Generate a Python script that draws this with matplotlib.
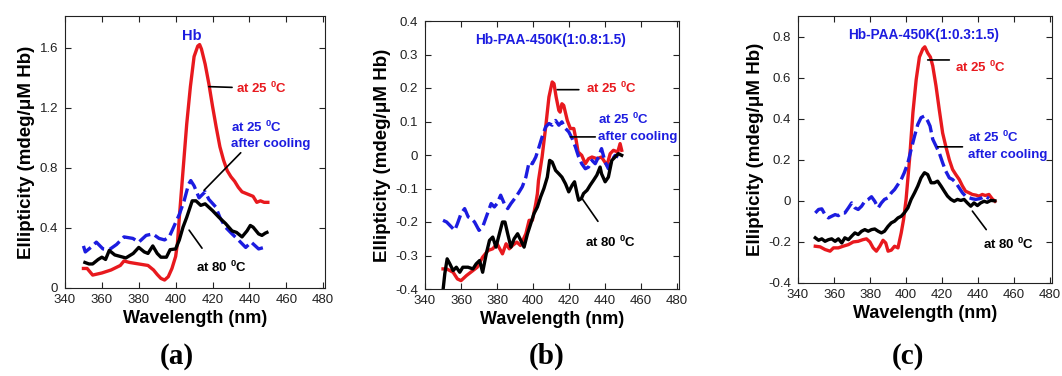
import matplotlib.pyplot as plt
from matplotlib.ticker import FuncFormatter

plt.rcParams['font.family'] = ['Liberation Sans', 'DejaVu Sans']
plt.rcParams['axes.unicode_minus'] = False
plt.rcParams['mathtext.fontset'] = 'custom'
plt.rcParams['mathtext.rm'] = 'Liberation Sans:bold'
plt.rcParams['mathtext.bf'] = 'Liberation Sans:bold'

RED = '#e8191e'
BLUE = '#1c1ce0'

# ---- panel (a): Hb ----
a_red_x = [350, 352, 355, 360, 365, 370, 372, 375, 380, 385, 388, 390, 392, 394, 396, 398,
           400, 401, 402, 404, 406, 408, 410, 412, 413, 414, 416, 418, 420, 422, 424, 426,
           428, 430, 432, 434, 436, 438, 440, 442, 444, 446, 448, 450]
a_red_y = [0.13, 0.13, 0.086, 0.10, 0.12, 0.15, 0.18, 0.17, 0.16, 0.15, 0.12, 0.09, 0.064, 0.053,
           0.075, 0.13, 0.21, 0.30, 0.47, 0.78, 1.09, 1.34, 1.54, 1.61, 1.62, 1.59, 1.49, 1.36,
           1.21, 1.07, 0.94, 0.85, 0.78, 0.74, 0.71, 0.67, 0.64, 0.63, 0.62, 0.61, 0.57, 0.58,
           0.57, 0.57]
a_blue_x = [350, 351, 354, 357, 360.6, 364, 368, 372, 376.8, 380, 384, 387.6, 391, 394, 396.5,
            398, 402, 404.6, 407, 408.2, 410, 412.7, 416, 418, 421.7, 424, 427, 430.6, 434, 438,
            441, 445, 448]
a_blue_y = [0.28, 0.24, 0.27, 0.305, 0.26, 0.255, 0.29, 0.34, 0.33, 0.305, 0.35, 0.36, 0.33,
            0.32, 0.34, 0.38, 0.49, 0.58, 0.69, 0.715, 0.68, 0.60, 0.64, 0.59, 0.54, 0.47, 0.405,
            0.36, 0.32, 0.27, 0.305, 0.26, 0.27]
a_black_x = [350.8, 353, 355, 358, 360, 362, 364, 367, 370, 373, 377, 380, 383, 385, 387.6, 390,
             392, 395, 397, 400, 402, 404, 406, 409, 411, 413.6, 416, 420, 423.5, 427, 430.6,
             433, 436, 438.7, 440.5, 442, 445, 446.8, 448.6, 449.5]
a_black_y = [0.17, 0.16, 0.16, 0.19, 0.205, 0.19, 0.25, 0.22, 0.21, 0.20, 0.23, 0.27, 0.24, 0.23,
             0.28, 0.23, 0.205, 0.205, 0.255, 0.26, 0.32, 0.405, 0.47, 0.58, 0.58, 0.55, 0.56,
             0.515, 0.47, 0.43, 0.38, 0.37, 0.34, 0.38, 0.416, 0.405, 0.36, 0.35, 0.365, 0.37]

# ---- panel (b): Hb-PAA-450K(1:0.8:1.5) ----
b_red_x = [350, 352, 355.6, 358, 360, 363, 366.6, 369, 372, 375, 377.6, 380, 383, 385, 386.8,
           388.6, 391, 393, 396, 397.8, 399.6, 401.5, 402.4, 403, 405, 407, 408.8, 410.6,
           411.6, 412.8, 414.3, 415, 416, 417, 419, 420.7, 422.6, 423.9, 425, 427, 429, 430.8,
           432.7, 435.4, 438, 441, 442.8, 444.6, 447, 448.3, 449.2]
b_red_y = [-0.34, -0.34, -0.35, -0.37, -0.375, -0.36, -0.345, -0.335, -0.305, -0.285, -0.28,
           -0.265, -0.295, -0.265, -0.28, -0.27, -0.26, -0.27, -0.235, -0.195, -0.195, -0.145,
           -0.115, -0.076, -0.006, 0.084, 0.173, 0.218, 0.213, 0.173, 0.133, 0.128, 0.153, 0.148,
           0.103, 0.079, 0.079, 0.044, 0.009, -0.001, -0.026, -0.011, -0.006, -0.011, -0.006,
           -0.031, 0.004, 0.014, 0.009, 0.034, 0.014]
b_blue_x = [350, 352, 354.7, 356.5, 358, 360, 362, 364, 365.7, 367.5, 370, 372, 374, 376.7,
            378.5, 380, 382, 384, 385.9, 387.7, 390.5, 392.3, 394, 396, 397.8, 399.6, 401.5,
            403.3, 405, 407, 408.8, 410.6, 412.5, 414.3, 416, 418, 419.8, 421.7, 423.5, 425.3,
            427, 429, 430.8, 432.7, 434.5, 436.3, 438, 440, 441.8, 443.7, 445.5, 447.3]
b_blue_y = [-0.195, -0.2, -0.215, -0.225, -0.205, -0.175, -0.16, -0.185, -0.19, -0.2, -0.225,
            -0.215, -0.185, -0.145, -0.155, -0.145, -0.12, -0.145, -0.16, -0.145, -0.125, -0.11,
            -0.095, -0.066, -0.021, -0.026, -0.006, 0.024, 0.054, 0.084, 0.094, 0.089, 0.103,
            0.089, 0.099, 0.079, 0.069, 0.049, 0.024, -0.006, -0.026, -0.041, -0.036, -0.016,
            -0.026, -0.006, 0.019, -0.021, -0.041, -0.016, -0.001, -0.006]
b_black_x = [350, 351, 352.3, 353.8, 355.6, 357.4, 359.3, 361, 363.9, 366.6, 368.4, 370.3, 372,
             374, 375.8, 377.6, 379.4, 381.3, 383, 384.4, 385.9, 387.7, 389.5, 391.4, 393.2, 395,
             396.9, 398.7, 400.5, 402.4, 404.2, 406, 407.9, 409.2, 410.6, 412.5, 414.3, 416, 418,
             419.8, 421.7, 423, 424.4, 425.3, 426.8, 428, 430, 431.7, 433.6, 435.4, 437.2, 438,
             440, 441.8, 443.7, 445.5, 447.3, 449.2]
b_black_y = [-0.404, -0.354, -0.31, -0.325, -0.345, -0.335, -0.35, -0.335, -0.335, -0.34, -0.325,
             -0.315, -0.35, -0.295, -0.255, -0.245, -0.275, -0.235, -0.2, -0.2, -0.235, -0.275,
             -0.25, -0.235, -0.255, -0.275, -0.235, -0.205, -0.175, -0.155, -0.125, -0.1, -0.066,
             -0.016, -0.021, -0.046, -0.056, -0.066, -0.086, -0.11, -0.09, -0.08, -0.115, -0.135,
             -0.13, -0.115, -0.105, -0.09, -0.075, -0.06, -0.036, -0.056, -0.08, -0.066, -0.016,
             -0.006, 0.004, -0.001]

# ---- panel (c): Hb-PAA-450K(1:0.3:1.5) ----
c_red_x = [349.6, 352.3, 355, 357.8, 359.7, 362.4, 365, 368, 370.7, 373.4, 376, 378, 379.9,
           381.7, 383.5, 385.4, 387.2, 388.7, 390, 391.8, 393.6, 395.5, 397.3, 398.6, 400, 401.9,
           403.8, 405.6, 407.4, 409.3, 410.4, 412, 413.5, 414.8, 416.6, 418.4, 420.3, 422, 424,
           425.8, 427.6, 429.5, 431.3, 433, 435, 436.8, 438.7, 440.5, 442.3, 444, 446, 447.8,
           449.3]
c_red_y = [-0.221, -0.224, -0.237, -0.245, -0.229, -0.229, -0.221, -0.213, -0.2, -0.197, -0.189,
           -0.185, -0.2, -0.229, -0.245, -0.221, -0.192, -0.205, -0.245, -0.24, -0.221, -0.229,
           -0.156, -0.091, 0.007, 0.2, 0.43, 0.59, 0.70, 0.74, 0.75, 0.72, 0.70, 0.657, 0.56,
           0.445, 0.33, 0.267, 0.2, 0.153, 0.128, 0.104, 0.072, 0.047, 0.039, 0.031, 0.028,
           0.023, 0.031, 0.026, 0.031, 0.01, -0.002]
c_blue_x = [349.6, 351.4, 353.2, 355, 356.9, 358.7, 360.6, 362.4, 364.3, 366, 368, 369.8, 371.6,
            373.4, 375.3, 377.1, 379, 380.8, 382.6, 384.5, 386.3, 388, 390, 391.8, 393.6, 395.5,
            397.3, 399, 401, 402.8, 404.7, 406.5, 408.3, 410.2, 412, 413.3, 414.8, 416.6, 418.4,
            420.3, 422, 424, 425.8, 427.6, 429.5, 431.3, 433, 435, 436.8, 438.7, 440.5, 442.3,
            444, 446]
c_blue_y = [-0.059, -0.042, -0.039, -0.067, -0.083, -0.075, -0.067, -0.072, -0.059, -0.059,
            -0.034, -0.01, -0.034, -0.042, -0.026, -0.002, 0.007, 0.02, -0.002, -0.034, -0.01,
            0.007, 0.015, 0.039, 0.055, 0.08, 0.104, 0.137, 0.185, 0.25, 0.315, 0.372, 0.405,
            0.413, 0.389, 0.364, 0.3, 0.267, 0.234, 0.185, 0.145, 0.112, 0.104, 0.088, 0.063,
            0.039, 0.023, 0.015, 0.01, 0.007, 0.01, 0.015, 0.023, 0.011]
c_black_x = [349.6, 351.4, 353.2, 355, 356.9, 358.7, 360.6, 362.4, 364.3, 366, 368, 369.8, 371.6,
             373.4, 375.3, 377.1, 379, 380.8, 382.6, 384.5, 386.3, 388, 390, 391.8, 393.6, 395.5,
             397.3, 399, 401, 402.8, 404.7, 406.5, 408.3, 410.2, 412, 413.9, 415.7, 417.5, 419.4,
             421.2, 423, 424.9, 426.7, 428.5, 430.4, 432.2, 434, 435.9, 437.7, 439.6, 441.4,
             443.3, 445, 447, 449.3]
c_black_y = [-0.18, -0.192, -0.185, -0.197, -0.189, -0.185, -0.197, -0.185, -0.205, -0.18, -0.189,
             -0.172, -0.156, -0.164, -0.148, -0.14, -0.148, -0.14, -0.137, -0.148, -0.156, -0.148,
             -0.124, -0.107, -0.099, -0.083, -0.075, -0.059, -0.034, 0.007, 0.039, 0.072, 0.112,
             0.137, 0.128, 0.088, 0.088, 0.096, 0.072, 0.047, 0.023, 0.007, -0.002, 0.007, 0.002,
             0.007, -0.01, -0.026, -0.01, -0.023, -0.01, -0.002, -0.007, 0.002, 0.0]

titles = ['Hb', 'Hb-PAA-450K(1:0.8:1.5)', 'Hb-PAA-450K(1:0.3:1.5)']
panel_labels = ['(a)', '(b)', '(c)']
yticks = [[0, 0.4, 0.8, 1.2, 1.6],
          [-0.4, -0.3, -0.2, -0.1, 0, 0.1, 0.2, 0.3, 0.4],
          [-0.4, -0.2, 0, 0.2, 0.4, 0.6, 0.8]]
ylims = [(0, 1.81), (-0.4, 0.4), (-0.4, 0.9)]
xticks = [340, 360, 380, 400, 420, 440, 460, 480]

W, H = 1062, 376
fig = plt.figure(figsize=(W / 100, H / 100), dpi=100)

# axes boxes in pixels: left, top, right, bottom
boxes = [(65, 16, 325, 288), (425, 21, 679, 289), (798, 16, 1052, 283)]
axes = []
for (l, t, r, b) in boxes:
    axes.append(fig.add_axes([l / W, 1 - b / H, (r - l) / W, (b - t) / H]))

series = [
    (a_red_x, a_red_y, a_blue_x, a_blue_y, a_black_x, a_black_y),
    (b_red_x, b_red_y, b_blue_x, b_blue_y, b_black_x, b_black_y),
    (c_red_x, c_red_y, c_blue_x, c_blue_y, c_black_x, c_black_y),
]

# annotation placement (data coords): title, red text, blue text lines, black text, leaders
notes = [
    dict(title=(409, 1.68, 10.5), red=(433, 1.33), blue=(430, 1.07, 0.956), black=(411, 0.14),
         lred=((418, 1.34), (430.6, 1.335)), lblue=((415.4, 0.65), (435.3, 0.90)),
         lblack=((407.3, 0.385), (414.3, 0.265))),
    dict(title=(409.4, 0.342, 9.8), red=(429.2, 0.198), blue=(436, 0.106, 0.054),
         black=(429, -0.26),
         lred=((413.4, 0.195), (425.4, 0.195)), lblue=((420.7, 0.054), (434.5, 0.054)),
         lblack=((427.2, -0.13), (436, -0.198))),
    dict(title=(409.6, 0.807, 9.8), red=(427.3, 0.649), blue=(434.6, 0.307, 0.221),
         black=(442.7, -0.213),
         lred=((412, 0.686), (424, 0.686)), lblue=((417.5, 0.263), (431.3, 0.263)),
         lblack=((436.8, -0.05), (444.5, -0.14))),
]

fmt = FuncFormatter(lambda v, p: f'{v:g}')
deg25 = r'at 25 $^0$C'
deg80 = r'at 80 $^0$C'

for i, ax in enumerate(axes):
    rx, ry, bx, by, kx, ky = series[i]
    ax.plot(rx, ry, color=RED, lw=2.4)
    ax.plot(bx, by, color=BLUE, lw=2.4, dashes=(4, 1.5))
    ax.plot(kx, ky, color='black', lw=2.4)

    ax.set_xlim(340, 481)
    ax.set_ylim(*ylims[i])
    ax.set_xticks(xticks)
    ax.set_yticks(yticks[i])
    ax.yaxis.set_major_formatter(fmt)
    ax.tick_params(direction='in', top=True, right=True, length=4, width=0.8,
                   labelsize=9.5, colors='#222222', pad=4.5)
    ax.tick_params(axis='y', pad=5)
    for s in ax.spines.values():
        s.set_linewidth(0.8)
        s.set_color('#222222')
    ax.set_xlabel('Wavelength (nm)', fontsize=13, fontweight='bold', labelpad=3)
    ax.set_ylabel('Ellipticity (mdeg/μM Hb)', fontsize=13.5, fontweight='bold', labelpad=3)

    n = notes[i]
    tx, ty, ts = n['title']
    ax.text(tx, ty, titles[i], color=BLUE, fontsize=ts, fontweight='bold', ha='center', va='center')
    ax.text(n['red'][0], n['red'][1], deg25, color=RED, fontsize=9.5, fontweight='bold',
            ha='left', va='center')
    ax.text(n['blue'][0], n['blue'][1], deg25, color=BLUE, fontsize=9.5, fontweight='bold',
            ha='left', va='center')
    ax.text(n['blue'][0], n['blue'][2], 'after cooling', color=BLUE, fontsize=9.5,
            fontweight='bold', ha='left', va='center')
    ax.text(n['black'][0], n['black'][1], deg80, color='black', fontsize=9.5, fontweight='bold',
            ha='left', va='center')
    for key in ('lred', 'lblue', 'lblack'):
        p0, p1 = n[key]
        ax.annotate('', xy=p1, xytext=p0,
                    arrowprops=dict(arrowstyle='-', color='black', lw=1.2,
                                    shrinkA=0, shrinkB=0))

label_x = [177, 547, 908]
for lx, lab in zip(label_x, panel_labels):
    fig.text(lx / W, 1 - 356 / H, lab, fontsize=21, fontweight='bold',
             family=['Liberation Serif', 'DejaVu Serif'], ha='center', va='center')

fig.savefig('out.png', dpi=100)
